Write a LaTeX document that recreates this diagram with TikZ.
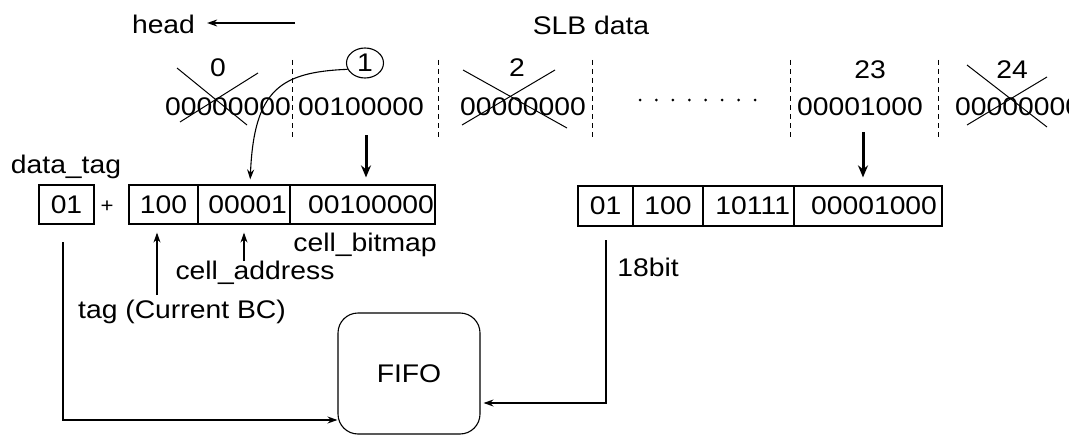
\documentclass[tikz,border=0pt]{standalone}
\usepackage{fontspec}
\setmainfont{Liberation Sans}[FakeStretch=1.11]
\usetikzlibrary{arrows.meta,calc,shapes.geometric}
\begin{document}
\begin{tikzpicture}[x=1pt,y=-1pt,
  txt/.style={inner sep=0pt,font=\fontsize{25.5}{30}\selectfont},
  cell/.style={draw,line width=1.2pt,minimum height=39pt,inner sep=0pt,font=\fontsize{25.5}{30}\selectfont},
  rcell/.style={cell,minimum height=40pt},
  rtext/.style={align=right,text width=#1},
  thinline/.style={line width=1.1pt},
  arr/.style={line width=1.1pt,-{Stealth[length=10pt,width=7pt]}},
  bigarr/.style={line width=3pt,-{Stealth[length=12pt,width=10pt]}},
  sepline/.style={line width=1pt,dash pattern=on 5pt off 4pt},
  strike/.style={line width=1pt}]
\clip (0,0) rectangle (1082,436);

% header
\node[txt] (head) at (163.5,24) {head};
\coordinate (hs) at (295,23);
\draw[arr,shorten >=12pt] (hs) -- (hs -| head.east);
\node[txt] (slb) at (591,25) {SLB data};

% slot indices
\node[txt] (l0) at (218,68) {0};
\node[txt,ellipse,draw,thinline,minimum width=37pt,minimum height=30pt] (one) at (365,63) {1};
\node[txt] (l2) at (517,68) {2};
\node[txt] (l23) at (870,70) {23};
\node[txt] (l24) at (1012,70) {24};

% slot values
\node[txt] (v0) at (228,107) {00000000};
\node[txt] (v1) at (361,107) {00100000};
\node[txt] (v2) at (523,107) {00000000};
\node[txt] (v23) at (860,107) {00001000};
\begin{scope}
  \clip (940,85) rectangle (1068,130);
  \node[txt,anchor=west] (v24) at (955,107) {00000000};
\end{scope}
\foreach \i in {0,...,7} \fill (640+16.43*\i,100) circle (1.5pt);

% slot separators
\foreach \x in {292,438,592,790,938}
  \draw[sepline] (\x,60) -- (\x,137);

% discarded slots
\draw[strike] (177,68) -- (247,125);
\draw[strike] (258,73) -- (180,122);
\draw[strike] (463,70) -- (567,128);
\draw[strike] (555,70) -- (462,125);
\draw[strike] (967,65) -- (1047,127);
\draw[strike] (1047,77) -- (967,125);

% left word
\node[txt] (dtl) at (66,167) {data\_tag};
\node[cell,minimum width=55pt] (dt) at (66.5,204.5) {01};
\node[txt,font=\fontsize{20}{24}\selectfont] (plus) at (107,207) {+};
\node[cell,minimum width=69pt] (c1) at (163.5,204.5) {100};
\node[cell,minimum width=92pt,rtext=86pt] (c2) at (244,204.5) {00001};
\node[cell,minimum width=145pt,rtext=143pt] (c3) at (362.5,204.5) {00100000};

% right word
\node[rcell,minimum width=55pt] (r1) at (605.5,206) {01};
\node[rcell,minimum width=70pt] (r2) at (668,206) {100};
\node[rcell,minimum width=91pt,rtext=83pt] (r3) at (748.5,206) {10111};
\node[rcell,minimum width=148pt,rtext=138pt] (r4) at (868,206) {00001000};

% field labels
\node[txt] (cb) at (365,245) {cell\_bitmap};
\node[txt] (ca) at (255,273) {cell\_address};
\node[txt] (tg) at (182,312) {tag (Current BC)};
\node[txt] (b18) at (648,267) {18bit};

% FIFO
\node[txt,draw,thinline,rounded corners=20pt,minimum width=142pt,minimum height=121pt] (fifo) at (409,373.5) {FIFO};

% connectors
\draw[arr,shorten >=5pt] (one.200) .. controls (280,72) and (254,90) .. ($(c2.north)+(6,0)$);
\coordinate (a1) at (366,135);
\draw[bigarr,shorten >=7pt] (a1) -- (a1 |- c3.north);
\coordinate (a23) at (863,132);
\draw[bigarr,shorten >=8pt] (a23) -- (a23 |- r4.north);
\coordinate (tagtop) at (157,295);
\draw[arr,shorten >=8pt] (tagtop) -- (tagtop |- c1.south);
\draw[arr,shorten >=8pt] (c2.south |- ca.north) -- (c2.south);
\coordinate (dtl0) at (63,242);
\draw[arr] (dtl0) |- ($(fifo.west)+(0,46.5)$);
\coordinate (r1l0) at (606,240);
\draw[arr,shorten >=3pt] (r1l0) |- ($(fifo.east)+(0,29.5)$);
\end{tikzpicture}
\end{document}
